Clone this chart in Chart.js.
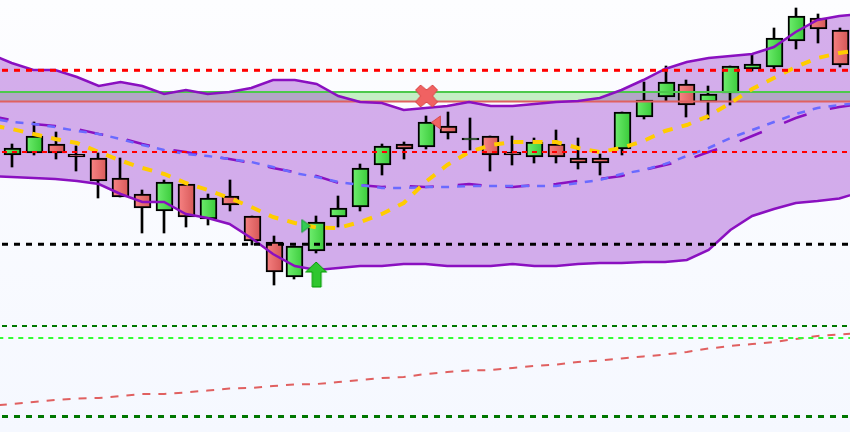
<!DOCTYPE html>
<html>
<head>
    <title>Candles with bands</title>
    <script src="https://cdn.jsdelivr.net/npm/chart.js"></script>
    <style>
        html, body { margin: 0; padding: 0; overflow: hidden; }
        body { width: 850px; height: 432px; background: linear-gradient(#fdfdff, #f5f8ff); }
        canvas { display: block; }
    </style>
</head>
<body>
    <canvas id="chart" width="850" height="432"></canvas>

    <script>
        // No price labels in the picture, so values are read as depth from the top (y axis is reversed)
        const opens  = [155,153,144,154,158,178,194,211,184,219,196,216,242,277,251,217,207,165,144,147,126,140,136,152,157,144,158,158,149,117,97,84,102,93,69,67,41,18,30];
        const closes = [148,136,153,157,181,197,208,182,217,198,205,241,272,246,222,208,168,146,149,122,133,138,155,155,142,157,163,163,112,100,82,105,94,66,64,38,16,29,65];
        const highs  = [144,122,132,146,153,158,190,180,184,194,180,216,236,246,216,196,164,144,142,116,112,118,136,136,138,130,138,154,112,82,66,80,86,66,54,28,8,14,28];
        const lows   = [167,155,159,171,198,197,233,233,227,225,211,245,285,279,253,227,211,175,159,149,139,150,171,165,163,163,169,175,155,119,101,117,119,105,71,69,49,43,67];

        // Line series start one candle before the left edge and end one after the right edge
        const bandUpper = [54,63,70,70,77,86,82,86,94,90,94,92,88,80,80,84,96,102,103,110,108,106,102,106,106,104,102,101,98,90,80,69,62,58,56,54,47,32,20,16,14];
        const bandLower = [176,177,178,179,181,184,194,202,202,214,218,224,238,254,266,270,268,266,266,264,264,266,266,266,264,266,266,264,263,263,262,262,260,250,230,216,209,203,201,198.5,192];
        const bandMiddle = [116,120,124,126,129,134,138,144,149,152,156,159,163,168,172,176,183,185,187,186,187,186,184,186,187,185,184,181,179,176,170,165,160,152,145,136,127,118,111,107,104];
        const avgBlue = [118,122,124,127,131,134,139,145,150,154,156,159,162,167,173,177,182,185,188,188,187,187,186,186,186,186,186,183,180,174,170,164,156,148,138,130,122,114,108,105,103];
        const avgYellow = [125,129,134,139,143,152,160.5,168,174,183,190,198,207,217,223,227.5,228,222,214,203,182,165,152,145,142,142,142,148,152,148,141,131,125,116,103,89,78,67,58,53,50];
        const trendRed = [406,404,402,400,398.5,398,396,394,394,392.5,390.5,388.5,388,386,384.5,384,382,380,378,377,374,372,370.5,370,368,366,364.5,362,360.5,358.5,356.5,354.5,352,348.5,346,344,342,339,336,334.5,333];

        const zoneTop = 92;
        const zoneBottom = 101.5;
        const levelRedHigh = 70.3;
        const levelRedLow = 152;
        const levelBlack = 244.3;
        const levelGreenDark = 326;
        const levelGreenLight = 338;
        const levelGreenBottom = 416.5;

        // Markers: candle position, value
        const crossMark = [{ x: 19.05, y: 96 }];
        const sellMark = [{ x: 19.5, y: 122.5 }];
        const buyMark = [{ x: 13.52, y: 226 }];
        const arrowMark = [{ x: 13.98, y: 274.5 }];

        const xMin = -0.5349;
        const xMax = 38.492;

        function series(values) {
            return values.map((y, i) => ({ x: i - 1, y: y }));
        }

        function level(y) {
            return [{ x: xMin, y: y }, { x: xMax, y: y }];
        }

        function lineSet(data, color, width, dash, offset, order) {
            return {
                type: 'line', data: data, borderColor: color, borderWidth: width,
                borderDash: dash || [], borderDashOffset: offset || 0,
                pointRadius: 0, tension: 0, fill: false, order: order
            };
        }

        function markCanvas(w, h, draw) {
            const c = document.createElement('canvas');
            c.width = w;
            c.height = h;
            const g = c.getContext('2d');
            g.lineJoin = 'miter';
            draw(g);
            return c;
        }

        function path(g, pts, fill, stroke) {
            g.beginPath();
            pts.forEach((p, i) => i ? g.lineTo(p[0], p[1]) : g.moveTo(p[0], p[1]));
            g.closePath();
            g.fillStyle = fill;
            g.fill();
            g.lineWidth = 1;
            g.strokeStyle = stroke;
            g.stroke();
        }

        const crossIcon = markCanvas(24, 24, g => path(g, [
            [6,1],[12,6],[18,1],[23,6],[18,12],[23,18],[18,23],[12,18],[6,23],[1,18],[6,12],[1,6]
        ], '#f06262', '#d84848'));
        const sellIcon = markCanvas(11, 15, g => path(g, [[0.5,7.5],[9.5,1],[9.5,14]], '#f06262', '#d84848'));
        const buyIcon = markCanvas(11, 15, g => path(g, [[1,1],[1,14],[10,7.5]], '#33cc55', '#119933'));
        const arrowIcon = markCanvas(24, 27, g => path(g, [
            [12,1],[22.5,11],[17,11],[17,26],[8,26],[8,11],[1.5,11]
        ], '#2fc62f', '#009900'));

        function markSet(data, icon) {
            return { type: 'line', data: data, showLine: false, pointStyle: icon, pointRadius: 10, order: 0 };
        }

        function bodyFill(ctx) {
            const up = closes[ctx.dataIndex] < opens[ctx.dataIndex];
            const x = ctx.chart.scales.x.getPixelForValue(ctx.dataIndex);
            if (!isFinite(x)) return up ? '#56dd56' : '#e87070';
            const grad = ctx.chart.ctx.createLinearGradient(x - 8, 0, x + 8, 0);
            grad.addColorStop(0, up ? '#70ee70' : '#f88484');
            grad.addColorStop(1, up ? '#3ccc3c' : '#d85a5a');
            return grad;
        }

        // Candles sit on whole even pixels in the picture
        const snapCandles = {
            id: 'snapCandles',
            afterDatasetsUpdate(chart) {
                chart.getSortedVisibleDatasetMetas().forEach(meta => {
                    if (meta.type !== 'bar') return;
                    const shift = chart.data.datasets[meta.index].barThickness === 17 ? 0.5 : 0;
                    meta.data.forEach(el => { el.x = 2 * Math.floor((el.x + 1) / 2) + shift; });
                });
            }
        };

        const zoneFill = lineSet(level(zoneTop), 'transparent', 0, null, 0, 12);
        zoneFill.fill = { value: zoneBottom };
        zoneFill.backgroundColor = '#c5eec5';

        const bandFill = lineSet(series(bandUpper), 'transparent', 0, null, 0, 10);
        bandFill.fill = { target: 2 };
        bandFill.backgroundColor = 'rgba(152, 56, 204, 0.4)';

        new Chart(document.getElementById('chart'), {
            type: 'bar',
            data: {
                datasets: [
                    zoneFill,
                    bandFill,
                    lineSet(series(bandLower), 'transparent', 0, null, 0, 11),
                    {
                        data: highs.map((h, i) => ({ x: i, y: [h, lows[i]] })),
                        backgroundColor: '#000', barThickness: 2, grouped: false, borderSkipped: false, order: 9
                    },
                    {
                        data: opens.map((o, i) => ({ x: i, y: [o, closes[i]] })),
                        backgroundColor: bodyFill, borderColor: '#000', borderWidth: 2,
                        barThickness: 17, grouped: false, borderSkipped: false, order: 8
                    },
                    lineSet(level(zoneTop), '#4cc94c', 2, null, 0, 7),
                    lineSet(level(zoneBottom), '#e06060', 2, null, 0, 7),
                    lineSet(series(bandUpper), '#8a10c0', 2.5, null, 0, 6),
                    lineSet(series(bandLower), '#8a10c0', 2.5, null, 0, 6),
                    lineSet(series(bandMiddle), '#8a10c0', 2.5, [24, 24], 5, 6),
                    lineSet(series(avgBlue), '#6a6aff', 2.5, [8, 8], 6, 5),
                    lineSet(series(avgYellow), '#ffcc00', 4, [10, 9.3], 14.6, 4),
                    lineSet(series(trendRed), '#e06060', 2, [8, 8], 7, 4),
                    lineSet(level(levelRedHigh), '#ff0000', 3, [6, 6], 10, 3),
                    lineSet(level(levelRedLow), '#ff0000', 2, [5, 5], 8, 3),
                    lineSet(level(levelBlack), '#000000', 3, [6, 6], 10, 3),
                    lineSet(level(levelGreenDark), '#007700', 2, [5, 5], 8, 3),
                    lineSet(level(levelGreenLight), '#33ff33', 2, [5, 5], 1.7, 3),
                    lineSet(level(levelGreenBottom), '#007700', 3, [6, 6], 10, 3),
                    markSet(crossMark, crossIcon),
                    markSet(sellMark, sellIcon),
                    markSet(buyMark, buyIcon),
                    markSet(arrowMark, arrowIcon)
                ]
            },
            plugins: [snapCandles],
            options: {
                responsive: false,
                animation: false,
                devicePixelRatio: 1,
                layout: { padding: 0, autoPadding: false },
                plugins: { legend: { display: false }, tooltip: { enabled: false } },
                scales: {
                    x: { type: 'linear', display: false, offset: false, min: xMin, max: xMax },
                    y: { type: 'linear', display: false, reverse: true, min: 0, max: 432 }
                }
            }
        });
    </script>
</body>
</html>
